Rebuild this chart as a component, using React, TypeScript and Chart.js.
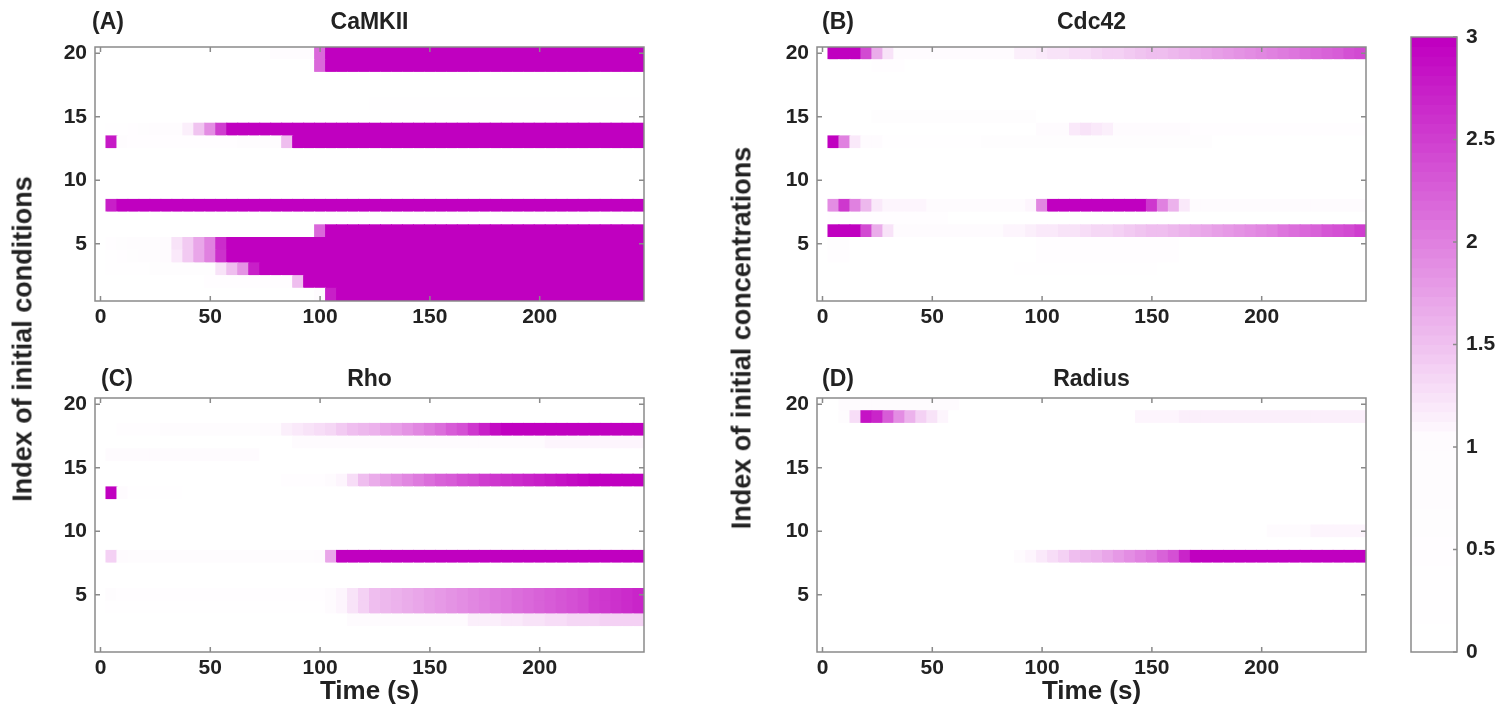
import React, { useEffect, useRef } from 'react';
import { Chart, registerables } from 'chart.js';

Chart.register(...registerables);

// ---------------- data ----------------
const TIMES = [0, 5, 10, 15, 20, 25, 30, 35, 40, 45, 50, 55, 60, 65, 70, 75, 80, 85, 90, 95, 100, 105, 110, 115, 120, 125, 130, 135, 140, 145, 150, 155, 160, 165, 170, 175, 180, 185, 190, 195, 200, 205, 210, 215, 220, 225, 230, 235, 240, 245];
const ROW_INDEX = [20, 19, 18, 17, 16, 15, 14, 13, 12, 11, 10, 9, 8, 7, 6, 5, 4, 3, 2, 1];
const X_TICKS = [0, 50, 100, 150, 200];
const Y_TICKS = [5, 10, 15, 20];
const CB_TICKS = [0, 0.5, 1, 1.5, 2, 2.5, 3];

// rows listed from index 20 (top) down to index 1 (bottom), columns follow TIMES
const CAMKII = [
  [0,0,0,0,0,0,0,0,0,0, 0,0,0,0,0,0,0.8,0.8,0.8,0.8, 2.2,3,3,3,3,3,3,3,3,3, 3,3,3,3,3,3,3,3,3,3, 3,3,3,3,3,3,3,3,3,3],
  [0,0,0,0,0,0,0,0,0,0, 0,0,0,0,0,0,0,0,0,0, 2.2,3,3,3,3,3,3,3,3,3, 3,3,3,3,3,3,3,3,3,3, 3,3,3,3,3,3,3,3,3,3],
  [0,0,0,0,0,0,0,0,0,0, 0,0,0,0,0,0,0,0,0,0, 0,0,0,0,0,0,0,0,0,0, 0,0,0,0,0,0,0,0,0,0, 0,0,0,0,0,0,0,0,0,0],
  [0,0,0,0,0,0,0,0,0,0, 0,0,0,0,0,0,0,0,0,0, 0,0,0,0,0,0,0,0,0,0, 0,0,0,0,0,0,0,0,0,0, 0,0,0,0,0,0,0,0,0,0],
  [0,0,0,0,0,0,0,0,0,0, 0,0,0,0,0,0,0,0,0,0, 0,0,0,0,0,0.4,0.4,0.4,0.4,0.4, 0.4,0.4,0.4,0.4,0.4,0.4,0.4,0.4,0.4,0.4, 0.4,0.4,0.4,0.4,0.4,0.4,0.4,0.4,0.4,0.4],
  [0,0,0,0,0,0,0,0,0,0, 0,0,0,0,0,0,0,0,0,0, 0,0,0,0,0,0,0,0,0,0, 0,0,0,0,0,0,0,0,0,0, 0,0,0,0,0,0,0,0,0,0],
  [0,0.3,0.4,0.5,0.6,0.7,0.8,0.9,1.15,1.48, 1.9,2.5,3,3,3,3,3,3,3,3, 3,3,3,3,3,3,3,3,3,3, 3,3,3,3,3,3,3,3,3,3, 3,3,3,3,3,3,3,3,3,3],
  [0,2.8,0.9,0.5,0.5,0.5,0.5,0.5,0.5,0.5, 0.5,0.5,0.5,0.8,0.8,0.8,0.8,1.5,3,3, 3,3,3,3,3,3,3,3,3,3, 3,3,3,3,3,3,3,3,3,3, 3,3,3,3,3,3,3,3,3,3],
  [0,0,0,0,0,0,0,0,0,0, 0,0,0,0,0,0,0,0,0,0, 0,0,0,0,0,0,0,0,0,0, 0,0,0,0,0,0,0,0,0,0, 0,0,0,0,0,0,0,0,0,0],
  [0,0,0,0,0,0,0,0,0,0, 0,0,0,0,0,0,0,0,0,0, 0,0,0,0,0,0,0,0,0,0, 0,0,0,0,0,0,0,0,0,0, 0,0,0,0,0,0,0,0,0,0],
  [0,0,0,0,0,0,0,0,0,0, 0,0,0,0,0,0,0,0,0,0, 0,0,0,0,0,0,0,0,0,0, 0,0,0,0,0,0,0,0,0,0, 0,0,0,0,0,0,0,0,0,0],
  [0,0,0,0,0,0,0,0,0,0, 0,0,0,0,0,0,0,0,0,0, 0,0,0,0,0,0,0,0,0,0, 0,0,0,0,0,0,0,0,0,0, 0,0,0,0,0,0,0,0,0,0],
  [0,2.75,3,3,3,3,3,3,3,3, 3,3,3,3,3,3,3,3,3,3, 3,3,3,3,3,3,3,3,3,3, 3,3,3,3,3,3,3,3,3,3, 3,3,3,3,3,3,3,3,3,3],
  [0,0,0,0,0,0,0,0,0,0, 0,0,0,0,0,0,0,0,0,0, 0.3,0.3,0.3,0.3,0.3,0.3,0.3,0.3,0.3,0.3, 0.3,0.3,0.3,0.3,0.3,0.3,0.3,0.3,0.3,0.3, 0.3,0.3,0.3,0.3,0.3,0.3,0.3,0.3,0.3,0.3],
  [0,0,0,0,0,0,0,0,0,0, 0,0,0,0,0,0,0,0,0,0, 2.2,3,3,3,3,3,3,3,3,3, 3,3,3,3,3,3,3,3,3,3, 3,3,3,3,3,3,3,3,3,3],
  [0,0.5,0.6,0.7,0.8,0.9,1.0,1.25,1.45,1.7, 2.0,2.65,3,3,3,3,3,3,3,3, 3,3,3,3,3,3,3,3,3,3, 3,3,3,3,3,3,3,3,3,3, 3,3,3,3,3,3,3,3,3,3],
  [0,0.4,0.5,0.6,0.8,0.9,1.0,1.2,1.45,1.7, 2.0,2.6,3,3,3,3,3,3,3,3, 3,3,3,3,3,3,3,3,3,3, 3,3,3,3,3,3,3,3,3,3, 3,3,3,3,3,3,3,3,3,3],
  [0,0.3,0.3,0.3,0.3,0.6,0.6,0.6,0.6,0.6, 0.6,1.25,1.5,1.85,2.75,3,3,3,3,3, 3,3,3,3,3,3,3,3,3,3, 3,3,3,3,3,3,3,3,3,3, 3,3,3,3,3,3,3,3,3,3],
  [0,0,0,0,0,0,0,0,0,0, 0.5,0.5,0.5,0.5,0.5,0.5,0.5,0.5,1.5,3, 3,3,3,3,3,3,3,3,3,3, 3,3,3,3,3,3,3,3,3,3, 3,3,3,3,3,3,3,3,3,3],
  [0,0,0,0,0,0,0,0,0,0, 0,0,0,0,0,0,0,0,0,0, 1.0,2.75,3,3,3,3,3,3,3,3, 3,3,3,3,3,3,3,3,3,3, 3,3,3,3,3,3,3,3,3,3],
];

const CDC42 = [
  [0,3,3,3,2.45,1.65,1.25,1.06,1.06,1.06, 1.06,1.06,1.06,1.06,1.06,1.06,1.06,1.06,1.12,1.15, 1.2,1.22,1.25,1.28,1.3,1.33,1.36,1.4,1.43,1.46, 1.5,1.54,1.58,1.62,1.66,1.7,1.75,1.8,1.85,1.9, 1.95,2.0,2.05,2.1,2.15,2.2,2.25,2.3,2.38,2.45],
  [0,0,0,0,0,0.5,0.5,0.5,0,0, 0,0,0,0,0,0,0,0,0,0, 0,0,0,0,0,0,0,0,0,0, 0,0,0,0,0,0,0,0,0,0, 0,0,0,0,0,0,0,0,0,0],
  [0,0,0,0,0,0,0,0,0,0, 0,0,0,0,0,0,0,0,0,0, 0,0,0,0,0,0,0,0,0,0, 0,0,0,0,0,0,0,0,0,0, 0,0,0,0,0,0,0,0,0,0],
  [0,0,0,0,0,0,0,0,0,0, 0,0,0,0,0,0,0,0,0,0, 0,0,0,0,0,0,0,0,0,0, 0,0,0,0,0,0,0,0,0,0, 0,0,0,0,0,0,0,0,0,0],
  [0,0,0,0,0,0,0,0,0,0, 0,0,0,0,0,0,0,0,0,0, 0,0,0,0,0,0,0,0,0,0, 0,0,0,0,0,0,0,0,0,0, 0,0,0,0,0,0,0,0,0,0],
  [0,0,0,0,0,0.6,0.6,0.6,0.6,0.6, 0.6,0.6,0.6,0.6,0.6,0.6,0.6,0.6,0.6,0.6, 0,0,0,0,0,0,0,0,0,0, 0,0,0,0,0,0,0,0,0,0, 0,0,0,0,0,0,0,0,0,0],
  [0,0,0,0,0,0,0,0,0,0, 0,0,0,0,0,0,0,0,0,0, 1.05,1.05,1.05,1.2,1.22,1.2,1.15,1.05,1.05,1.05, 1.05,1.05,1.05,1.05,0.5,0.5,0.5,0.5,0.5,0.5, 0.5,0.5,0.5,0.5,0.5,0.5,0.5,0.5,0.5,0.5],
  [0,3,2.0,1.2,1.05,1.0,0.3,0.3,0.3,0.3, 0.3,0.3,0.3,0.3,0.3,0.6,0.6,0.6,0.6,0.6, 0.6,0.6,0.6,0.6,0.6,0.6,0.6,0.6,0.6,0.6, 0.6,0.6,0.6,0.6,0.6,0.6,0,0,0,0, 0,0,0,0,0,0,0,0,0,0],
  [0,0,0,0,0,0,0,0,0,0, 0,0,0,0,0,0,0,0,0,0, 0,0,0,0,0,0,0,0,0,0, 0,0,0,0,0,0,0,0,0,0, 0,0,0,0,0,0,0,0,0,0],
  [0,0,0,0,0,0,0,0,0,0, 0,0,0,0,0,0,0,0,0,0, 0,0,0,0,0,0,0,0,0,0, 0,0,0,0,0,0,0,0,0,0, 0,0,0,0,0,0,0,0,0,0],
  [0,0,0,0,0,0,0,0,0,0, 0,0,0,0,0,0,0,0,0,0, 0,0,0,0,0,0,0,0,0,0, 0,0,0,0,0,0,0,0,0,0, 0,0,0,0,0,0,0,0,0,0],
  [0,0,0,0,0,0,0,0,0,0, 0,0,0,0,0,0,0,0,0,0, 0,0,0,0,0,0,0,0,0,0, 0,0,0,0,0,0,0,0,0,0, 0,0,0,0,0,0,0,0,0,0],
  [0,1.9,2.55,2.0,1.55,1.2,1.08,1.08,1.08,1.08, 1.03,1.03,1.03,1.03,1.03,1.03,1.03,1.03,1.05,1.1, 1.95,3,3,3,3,3,3,3,3,3, 2.55,2.0,1.6,1.2,1.05,1.05,1.05,1.05,1.05,1.05, 1.05,1.05,1.05,1.05,1.05,1.05,1.05,1.05,1.05,1.05],
  [0,0.5,0.5,0.5,0.5,0.5,0.5,0.5,0.5,0.5, 0.5,0.5,0,0,0,0,0,0,0,0, 0,0,0,0,0,0,0,0,0,0, 0,0,0,0,0,0,0,0,0,0, 0,0,0,0,0,0,0,0,0,0],
  [0,3,3,3,2.45,1.65,1.25,1.06,1.06,1.06, 1.06,1.06,1.06,1.06,1.06,1.06,1.06,1.08,1.1,1.12, 1.18,1.2,1.23,1.26,1.29,1.32,1.35,1.38,1.42,1.46, 1.5,1.54,1.58,1.62,1.66,1.7,1.75,1.8,1.85,1.9, 1.96,2.02,2.08,2.14,2.2,2.26,2.32,2.38,2.44,2.5],
  [0,0.6,0.6,0,0,0,0,0,0,0, 0,0,0,0,0,0,0,0,0,0, 0.5,0.5,0.5,0.5,0.5,0.5,0.5,0.5,0.5,0.5, 0.5,0.5,0.5,0,0,0,0,0,0,0, 0,0,0,0,0,0,0,0,0,0],
  [0,0.5,0.5,0,0,0,0,0,0,0, 0,0,0,0,0,0,0,0,0,0, 0.5,0.5,0.5,0.5,0.5,0.5,0.5,0.5,0.5,0.5, 0.5,0.5,0.5,0,0,0,0,0,0,0, 0,0,0,0,0,0,0,0,0,0],
  [0,0,0,0,0,0,0,0,0,0, 0,0,0,0,0,0,0,0,0.4,0.4, 0.4,0.4,0.4,0.4,0.4,0.4,0.4,0.4,0.4,0.4, 0.4,0,0,0,0,0,0,0,0,0, 0,0,0,0,0,0,0,0,0,0],
  [0,0,0,0,0,0,0,0,0,0, 0,0,0,0,0,0,0,0,0,0, 0,0,0,0,0,0,0,0,0,0, 0,0,0,0,0,0,0,0,0,0, 0,0,0,0,0,0,0,0,0,0],
  [0,0,0,0,0,0,0,0,0,0, 0,0,0,0,0,0,0,0,0,0, 0,0,0,0,0,0,0,0,0,0, 0,0,0,0,0,0,0,0,0,0, 0,0,0,0,0,0,0,0,0,0],
];

const RHO = [
  [0,0,0,0,0,0,0,0,0,0, 0,0,0,0,0,0,0,0,0,0, 0,0,0,0,0,0,0,0,0,0, 0,0,0,0,0,0,0,0,0,0, 0,0,0,0,0,0,0,0,0,0],
  [0,0,0,0,0,0,0,0,0,0, 0,0,0,0,0,0,0,0,0,0, 0,0,0,0,0,0,0,0,0,0, 0,0,0,0,0,0,0,0,0,0, 0,0,0,0,0,0,0,0,0,0],
  [0,0,0.5,0.5,0.5,0.5,0.7,0.7,0.7,0.7, 0.7,0.9,0.9,0.9,0.9,1.0,1.05,1.12,1.2,1.25, 1.3,1.35,1.42,1.5,1.56,1.62,1.7,1.78,1.85,1.95, 2.05,2.15,2.3,2.4,2.55,2.75,2.9,3,3,3, 3,3,3,3,3,3,3,3,3,3],
  [0,0,0,0,0,0,0,0,0,0, 0,0,0,0,0,0,0,0,1.03,1.03, 1.03,1.03,1.03,1.03,1.03,1.03,1.03,1.03,1.03,1.03, 1.03,1.03,1.03,1.03,1.03,1.03,1.03,1.03,1.03,1.03, 1.03,1.08,1.08,1.08,1.08,1.08,1.08,1.08,1.08,1.08],
  [0,1.02,1.02,1.02,1.02,1.02,1.02,1.02,1.02,1.02, 1.02,1.02,1.02,1.02,1.02,0,0,0,0,0, 0,0,0,0,0,0,0,0,0,0, 0,0,0,0,0,0,0,0,0,0, 0,0,0,0,0,0,0,0,0,0],
  [0,0,0,0,0,0,0,0,0,0, 0,0,0,0,0,0,0,0,0,0, 0,0,0,0,0,0,0,0,0,0, 0,0,0,0,0,0,0,0,0,0, 0,0,0,0,0,0,0,0,0,0],
  [0,0,0,0,0,0,0,0,0,0, 0,0,0,0,0,0,0,0.5,0.5,0.5, 0.5,1.05,1.08,1.3,1.5,1.65,1.75,1.85,1.95,2.05, 2.15,2.25,2.3,2.4,2.45,2.5,2.55,2.6,2.65,2.7, 2.75,2.8,2.85,2.9,2.95,3,3,3,3,3],
  [0,3,1.05,0.4,0.4,0.4,0.4,0.4,0,0, 0,0,0,0,0,0,0,0,0,0, 0,0,0,0,0,0,0,0,0,0, 0,0,0,0,0,0,0,0,0,0, 0,0,0,0,0,0,0,0,0,0],
  [0,0,0,0,0,0,0,0,0,0, 0,0,0,0,0,0,0,0,0,0, 0,0,0,0,0,0,0,0,0,0, 0,0,0,0,0,0,0,0,0,0, 0,0,0,0,0,0,0,0,0,0],
  [0,0,0,0,0,0,0,0,0,0, 0,0,0,0,0,0,0,0,0,0, 0,0,0,0,0,0,0,0,0,0, 0,0,0,0,0,0,0,0,0,0, 0,0,0,0,0,0,0,0,0,0],
  [0,0,0,0,0,0,0,0,0,0, 0,0,0,0,0,0,0,0,0,0, 0,0,0,0,0,0,0,0,0,0, 0,0,0,0,0,0,0,0,0,0, 0,0,0,0,0,0,0,0,0,0],
  [0,0,0,0,0,0,0,0,0,0, 0,0,0,0,0,0,0,0,0,0, 0,0,0,0,0,0,0,0,0,0, 0,0,0,0,0,0,0,0,0,0, 0,0,0,0,0,0,0,0,0,0],
  [0,1.4,1.05,0.8,0.8,0.8,0.8,0.8,0.8,0.8, 0.8,0.8,0.8,0.8,0.8,0.8,0.8,0.8,0.8,0.8, 1.05,1.7,3,3,3,3,3,3,3,3, 3,3,3,3,3,3,3,3,3,3, 3,3,3,3,3,3,3,3,3,3],
  [0,0,0,0,0,0,0,0,0,0, 0,0,0,0,0,0,0,0,0,0, 0,0,0,0,0,0,0,0,0,0, 0,0,0,0,0,0,0,0,0,0, 0,0,0,0,0,0,0,0,0,0],
  [0,0,0,0,0,0,0,0,0,0, 0,0,0,0,0,0,0,0,0,0, 0,0,0,0,0,0,0,0,0,0, 0,0,0,0,0,0,0,0,0,0, 0,0,0,0,0,0,0,0,0,0],
  [0,0.8,0.5,0.5,0.5,0.5,0.5,0.5,0.5,0.5, 0.5,0.5,0.5,0.5,0.5,0.5,0.5,0.5,0.5,0.5, 0.5,1.05,1.1,1.25,1.4,1.5,1.55,1.6,1.65,1.7, 1.75,1.8,1.85,1.9,1.95,2.0,2.05,2.1,2.15,2.2, 2.25,2.3,2.35,2.4,2.45,2.5,2.55,2.6,2.65,2.7],
  [0,0.3,0.3,0.3,0.3,0.3,0.3,0.3,0.3,0.3, 0.3,0.3,0.3,0.3,0.3,0.3,0.3,0.3,0.3,0.3, 0.3,1.05,1.1,1.25,1.4,1.5,1.55,1.6,1.65,1.7, 1.75,1.8,1.85,1.9,1.95,2.0,2.05,2.1,2.15,2.2, 2.25,2.3,2.35,2.4,2.45,2.5,2.55,2.6,2.65,2.7],
  [0,0,0,0,0,0,0,0,0,0, 0,0,0,0,0,0,0,0,0,0, 0,0,0,1.05,1.05,1.05,1.05,1.05,1.05,1.05, 1.05,1.05,1.05,1.05,1.12,1.14,1.16,1.18,1.2,1.22, 1.25,1.27,1.29,1.31,1.33,1.35,1.37,1.38,1.4,1.4],
  [0,0,0,0,0,0,0,0,0,0, 0,0,0,0,0,0,0,0,0,0, 0,0,0,0,0,0,0,0,0,0, 0,0,0,0,0,0,0,0,0,0, 0,0,0,0,0,0,0,0,0,0],
  [0,0,0,0,0,0,0,0,0,0, 0,0,0,0,0,0,0,0,0,0, 0,0,0,0,0,0,0,0,0,0, 0,0,0,0,0,0,0,0,0,0, 0,0,0,0,0,0,0,0,0,0],
];

const RADIUS = [
  [0,0,1.02,1.02,1.02,1.02,1.02,1.02,1.02,1.02, 1.02,1.02,1.02,0,0,0,0,0,0,0, 0,0,0,0,0,0,0,0,0,0, 0,0,0,0,0,0,0,0,0,0, 0,0,0,0,0,0,0,0,0,0],
  [0,0,0.9,1.3,2.85,2.7,2.3,1.9,1.6,1.4, 1.22,1.1,0,0,0,0,0,0,0,0, 0,0,0,0,0,0,0,0,0,1.08, 1.08,1.08,1.08,1.12,1.12,1.12,1.12,1.12,1.12,1.12, 1.12,1.12,1.12,1.12,1.12,1.12,1.12,1.12,1.12,1.12],
  [0,0,0,0,0,0,0,0,0,0, 0,0,0,0,0,0,0,0,0,0, 0,0,0,0,0,0,0,0,0,0, 0,0,0,0,0,0,0,0,0,0, 0,0,0,0,0,0,0,0,0,0],
  [0,0,0,0,0,0,0,0,0,0, 0,0,0,0,0,0,0,0,0,0, 0,0,0,0,0,0,0,0,0,0, 0,0,0,0,0,0,0,0,0,0, 0,0,0,0,0,0,0,0,0,0],
  [0,0,0,0,0,0,0,0,0,0, 0,0,0,0,0,0,0,0,0,0, 0,0,0,0,0,0,0,0,0,0, 0,0,0,0,0,0,0,0,0,0, 0,0,0,0,0,0,0,0,0,0],
  [0,0,0,0,0,0,0,0,0,0, 0,0,0,0,0,0,0,0,0,0, 0,0,0,0,0,0,0,0,0,0, 0,0,0,0,0,0,0,0,0,0, 0,0,0,0,0,0,0,0,0,0],
  [0,0,0,0,0,0,0,0,0,0, 0,0,0,0,0,0,0,0,0,0, 0,0,0,0,0,0,0,0,0,0, 0,0,0,0,0,0,0,0,0,0, 0,0,0,0,0,0,0,0,0,0],
  [0,0,0,0,0,0,0,0,0,0, 0,0,0,0,0,0,0,0,0,0, 0,0,0,0,0,0,0,0,0,0, 0,0,0,0,0,0,0,0,0,0, 0,0,0,0,0,0,0,0,0,0],
  [0,0,0,0,0,0,0,0,0,0, 0,0,0,0,0,0,0,0,0,0, 0,0,0,0,0,0,0,0,0,0, 0,0,0,0,0,0,0,0,0,0, 0,0,0,0,0,0,0,0,0,0],
  [0,0,0,0,0,0,0,0,0,0, 0,0,0,0,0,0,0,0,0,0, 0,0,0,0,0,0,0,0,0,0, 0,0,0,0,0,0,0,0,0,0, 0,0,0,0,0,0,0,0,0,0],
  [0,0,0,0,0,0,0,0,0,0, 0,0,0,0,0,0,0,0,0,0, 0,0,0,0,0,0,0,0,0,0, 0,0,0,0,0,0,0,0,0,0, 0,1.06,1.06,1.06,1.06,1.1,1.1,1.1,1.1,1.1],
  [0,0,0,0,0,0,0,0,0,0, 0,0,0,0,0,0,0,0,0,0, 0,0,0,0,0,0,0,0,0,0, 0,0,0,0,0,0,0,0,0,0, 0,0,0,0,0,0,0,0,0,0],
  [0,0,0,0,0,0,0,0,0,0, 0,0,0,0,0,0,0,0,1.05,1.1, 1.2,1.3,1.4,1.5,1.55,1.6,1.7,1.8,1.9,2.0, 2.1,2.25,2.4,2.7,3,3,3,3,3,3, 3,3,3,3,3,3,3,3,3,3],
  [0,0,0,0,0,0,0,0,0,0, 0,0,0,0,0,0,0,0,0,0, 0,0,0,0,0,0,0,0,0,0, 0,0,0,0,0,0,0,0,0,0, 0,0,0,0,0,0,0,0,0,0],
  [0,0,0,0,0,0,0,0,0,0, 0,0,0,0,0,0,0,0,0,0, 0,0,0,0,0,0,0,0,0,0, 0,0,0,0,0,0,0,0,0,0, 0,0,0,0,0,0,0,0,0,0],
  [0,0,0,0,0,0,0,0,0,0, 0,0,0,0,0,0,0,0,0,0, 0,0,0,0,0,0,0,0,0,0, 0,0,0,0,0,0,0,0,0,0, 0,0,0,0,0,0,0,0,0,0],
  [0,0,0,0,0,0,0,0,0,0, 0,0,0,0,0,0,0,0,0,0, 0,0,0,0,0,0,0,0,0,0, 0,0,0,0,0,0,0,0,0,0, 0,0,0,0,0,0,0,0,0,0],
  [0,0,0,0,0,0,0,0,0,0, 0,0,0,0,0,0,0,0,0,0, 0,0,0,0,0,0,0,0,0,0, 0,0,0,0,0,0,0,0,0,0, 0,0,0,0,0,0,0,0,0,0],
  [0,0,0,0,0,0,0,0,0,0, 0,0,0,0,0,0,0,0,0,0, 0,0,0,0,0,0,0,0,0,0, 0,0,0,0,0,0,0,0,0,0, 0,0,0,0,0,0,0,0,0,0],
  [0,0,0,0,0,0,0,0,0,0, 0,0,0,0,0,0,0,0,0,0, 0,0,0,0,0,0,0,0,0,0, 0,0,0,0,0,0,0,0,0,0, 0,0,0,0,0,0,0,0,0,0],
];

// ---------------- colour map ----------------
const C_MIN = 0;
const C_MAX = 3;
const C_LEVELS = 64;
const C_KNEE = 1.05;
const C_LOW = 0.015;
const C_END = [192, 0, 192];

function levelOf(v: number): number {
  const f = (Math.min(C_MAX, Math.max(C_MIN, v)) - C_MIN) / (C_MAX - C_MIN);
  return Math.round(f * (C_LEVELS - 1));
}
function levelColor(i: number): string {
  const v = C_MIN + (i / (C_LEVELS - 1)) * (C_MAX - C_MIN);
  let t = v < C_KNEE ? (C_LOW * v) / C_KNEE : C_LOW + ((1 - C_LOW) * (v - C_KNEE)) / (C_MAX - C_KNEE);
  t = Math.max(0, Math.min(1, t));
  const r = Math.round(255 + (C_END[0] - 255) * t);
  const g = Math.round(255 + (C_END[1] - 255) * t);
  const b = Math.round(255 + (C_END[2] - 255) * t);
  return `rgb(${r},${g},${b})`;
}

// ---------------- styling ----------------
const FONT_FAMILY = '"Liberation Sans", Arial, Helvetica, sans-serif';
const TEXT_COLOR = '#222222';
const AXIS_COLOR = '#8a8a8a';
const TICK_FONT = { family: FONT_FAMILY, size: 21, weight: 'bold' as const, lineHeight: 1.2 };
const TITLE_SIZE = 23;
const LABEL_SIZE = 26;
const YLABEL_SIZE = 27;

Chart.defaults.font.family = FONT_FAMILY;
Chart.defaults.color = TEXT_COLOR;

type Rect = { left: number; top: number; width: number; height: number };
type Plot = { left: number; top: number; right: number; bottom: number };

const PANELS = [
  { key: 'A', title: 'CaMKII', letter: '(A)', letterX: 92, titleGap: 18, matrix: CAMKII, xTitle: false,
    canvas: { left: 0, top: 0, width: 680, height: 345 }, plot: { left: 95, top: 47, right: 644, bottom: 301 } },
  { key: 'B', title: 'Cdc42', letter: '(B)', letterX: 822, titleGap: 18, matrix: CDC42, xTitle: false,
    canvas: { left: 700, top: 0, width: 690, height: 345 }, plot: { left: 817, top: 47, right: 1366, bottom: 301 } },
  { key: 'C', title: 'Rho', letter: '(C)', letterX: 101, titleGap: 12, matrix: RHO, xTitle: true,
    canvas: { left: 0, top: 350, width: 680, height: 360 }, plot: { left: 95, top: 398, right: 644, bottom: 652 } },
  { key: 'D', title: 'Radius', letter: '(D)', letterX: 822, titleGap: 12, matrix: RADIUS, xTitle: true,
    canvas: { left: 700, top: 350, width: 690, height: 360 }, plot: { left: 817, top: 398, right: 1366, bottom: 652 } },
];

const CB_CANVAS: Rect = { left: 1400, top: 0, width: 96, height: 700 };
const CB_PLOT: Plot = { left: 1411, top: 37, right: 1457, bottom: 652 };

// ---------------- frame plugin ----------------
const framePlugin = {
  id: 'frame',
  afterDraw(chart: any, _args: any, opts: any) {
    const { ctx, chartArea } = chart;
    const { left, right, top, bottom } = chartArea;
    const len = opts.tickLength || 5;
    ctx.save();
    ctx.strokeStyle = AXIS_COLOR;
    ctx.lineWidth = 1.5;
    ctx.beginPath();
    if (opts.xTicks) {
      const sx = chart.scales.x;
      sx.ticks.forEach((t: any) => {
        const p = sx.getPixelForValue(t.value);
        ctx.moveTo(p, bottom);
        ctx.lineTo(p, bottom - len);
        ctx.moveTo(p, top);
        ctx.lineTo(p, top + len);
      });
    }
    const sy = chart.scales.y;
    sy.ticks.forEach((t: any) => {
      const p = sy.getPixelForValue(t.value);
      if (opts.leftTicks) {
        ctx.moveTo(left, p);
        ctx.lineTo(left + len, p);
      }
      ctx.moveTo(right, p);
      ctx.lineTo(right - len, p);
    });
    ctx.stroke();
    ctx.strokeRect(left, top, right - left, bottom - top);
    if (opts.title) {
      ctx.fillStyle = TEXT_COLOR;
      ctx.font = `bold ${TITLE_SIZE}px ${FONT_FAMILY}`;
      ctx.textBaseline = 'alphabetic';
      ctx.textAlign = 'center';
      ctx.fillText(opts.title, (left + right) / 2, top - opts.titleGap);
      ctx.textAlign = 'left';
      ctx.fillText(opts.letter, opts.letterX, top - opts.titleGap);
    }
    ctx.restore();
  },
};

function heatmapConfig(p: (typeof PANELS)[number]): any {
  const half = (TIMES[1] - TIMES[0]) / 2;
  const data: any[] = [];
  const colors: string[] = [];
  p.matrix.forEach((row, r) => {
    row.forEach((v, k) => {
      data.push({ x: [TIMES[k] - half, TIMES[k] + half], y: ROW_INDEX[r] });
      colors.push(levelColor(levelOf(v)));
    });
  });
  const xMin = TIMES[0] - half;
  const xMax = TIMES[TIMES.length - 1] + half;
  const yMin = Math.min(...ROW_INDEX) - 0.5;
  const yMax = Math.max(...ROW_INDEX) + 0.5;
  const yWidth = p.plot.left - p.canvas.left;
  const xHeight = p.canvas.top + p.canvas.height - p.plot.bottom;
  return {
    type: 'bar',
    data: {
      datasets: [
        {
          data,
          backgroundColor: colors,
          borderWidth: 0,
          barPercentage: 1,
          categoryPercentage: 1,
          inflateAmount: 0.5,
        },
      ],
    },
    options: {
      indexAxis: 'y',
      responsive: false,
      maintainAspectRatio: false,
      animation: false,
      events: [],
      layout: {
        padding: {
          left: 0,
          top: p.plot.top - p.canvas.top,
          right: p.canvas.left + p.canvas.width - p.plot.right,
          bottom: 0,
        },
      },
      plugins: {
        legend: { display: false },
        tooltip: { enabled: false },
        frame: {
          xTicks: true,
          leftTicks: true,
          tickLength: 5,
          title: p.title,
          letter: p.letter,
          titleGap: p.titleGap,
          letterX: p.letterX - p.canvas.left,
        },
      },
      scales: {
        x: {
          type: 'linear',
          min: xMin,
          max: xMax,
          offset: false,
          grid: { display: false, drawTicks: false },
          border: { display: false },
          afterBuildTicks: (s: any) => {
            s.ticks = X_TICKS.map((v) => ({ value: v }));
          },
          afterFit: (s: any) => {
            s.height = xHeight;
          },
          ticks: { padding: 4, font: TICK_FONT, color: TEXT_COLOR, maxRotation: 0, autoSkip: false },
          title: p.xTitle
            ? {
                display: true,
                text: 'Time (s)',
                color: TEXT_COLOR,
                font: { family: FONT_FAMILY, size: LABEL_SIZE, weight: 'bold', lineHeight: 1.2 },
                padding: { top: 0, bottom: 3 },
              }
            : { display: false },
        },
        y: {
          type: 'linear',
          min: yMin,
          max: yMax,
          offset: false,
          grid: { display: false, drawTicks: false },
          border: { display: false },
          afterBuildTicks: (s: any) => {
            s.ticks = Y_TICKS.map((v) => ({ value: v }));
          },
          afterFit: (s: any) => {
            s.width = yWidth;
          },
          ticks: { padding: 8, font: TICK_FONT, color: TEXT_COLOR, autoSkip: false },
        },
      },
    },
    plugins: [framePlugin],
  };
}

function colorbarConfig(): any {
  const data: any[] = [];
  const colors: string[] = [];
  const step = (C_MAX - C_MIN) / C_LEVELS;
  for (let i = 0; i < C_LEVELS; i++) {
    data.push({ x: 'colorbar', y: [C_MIN + i * step, C_MIN + (i + 1) * step] });
    colors.push(levelColor(i));
  }
  return {
    type: 'bar',
    data: {
      labels: ['colorbar'],
      datasets: [
        { data, backgroundColor: colors, borderWidth: 0, barPercentage: 1, categoryPercentage: 1, inflateAmount: 0.5 },
      ],
    },
    options: {
      responsive: false,
      maintainAspectRatio: false,
      animation: false,
      events: [],
      layout: {
        padding: {
          left: CB_PLOT.left - CB_CANVAS.left,
          top: CB_PLOT.top - CB_CANVAS.top,
          right: 0,
          bottom: CB_CANVAS.top + CB_CANVAS.height - CB_PLOT.bottom,
        },
      },
      plugins: {
        legend: { display: false },
        tooltip: { enabled: false },
        frame: { xTicks: false, leftTicks: false, tickLength: 4 },
      },
      scales: {
        x: { display: false },
        y: {
          type: 'linear',
          position: 'right',
          min: C_MIN,
          max: C_MAX,
          grid: { display: false, drawTicks: false },
          border: { display: false },
          afterBuildTicks: (s: any) => {
            s.ticks = CB_TICKS.map((v) => ({ value: v }));
          },
          afterFit: (s: any) => {
            s.width = CB_CANVAS.left + CB_CANVAS.width - CB_PLOT.right;
          },
          ticks: {
            padding: 9,
            font: TICK_FONT,
            color: TEXT_COLOR,
            autoSkip: false,
            callback: (v: any) => String(v),
          },
        },
      },
    },
    plugins: [framePlugin],
  };
}

const labelStyle = (cx: number, cy: number): React.CSSProperties => ({
  position: 'absolute',
  left: cx,
  top: cy,
  transform: 'translate(-50%, -50%) rotate(-90deg)',
  whiteSpace: 'nowrap',
  fontFamily: FONT_FAMILY,
  fontWeight: 'bold',
  fontSize: YLABEL_SIZE,
  color: TEXT_COLOR,
  lineHeight: 1,
});

export default function App() {
  const panelRefs = useRef<(HTMLCanvasElement | null)[]>([]);
  const cbRef = useRef<HTMLCanvasElement | null>(null);

  useEffect(() => {
    const charts: Chart[] = [];
    PANELS.forEach((p, i) => {
      const el = panelRefs.current[i];
      if (el) charts.push(new Chart(el, heatmapConfig(p)));
    });
    if (cbRef.current) charts.push(new Chart(cbRef.current, colorbarConfig()));
    return () => charts.forEach((c) => c.destroy());
  }, []);

  return (
    <div style={{ position: 'absolute', left: 0, top: 0, width: 1496, height: 710, overflow: 'hidden', background: '#ffffff' }}>
      {PANELS.map((p, i) => (
        <canvas
          key={p.key}
          ref={(el) => {
            panelRefs.current[i] = el;
          }}
          width={p.canvas.width}
          height={p.canvas.height}
          style={{ position: 'absolute', left: p.canvas.left, top: p.canvas.top, width: p.canvas.width, height: p.canvas.height }}
        />
      ))}
      <canvas
        ref={cbRef}
        width={CB_CANVAS.width}
        height={CB_CANVAS.height}
        style={{ position: 'absolute', left: CB_CANVAS.left, top: CB_CANVAS.top, width: CB_CANVAS.width, height: CB_CANVAS.height }}
      />
      <div style={labelStyle(23, 339)}>Index of initial conditions</div>
      <div style={labelStyle(742, 338)}>Index of initial concentrations</div>
    </div>
  );
}
